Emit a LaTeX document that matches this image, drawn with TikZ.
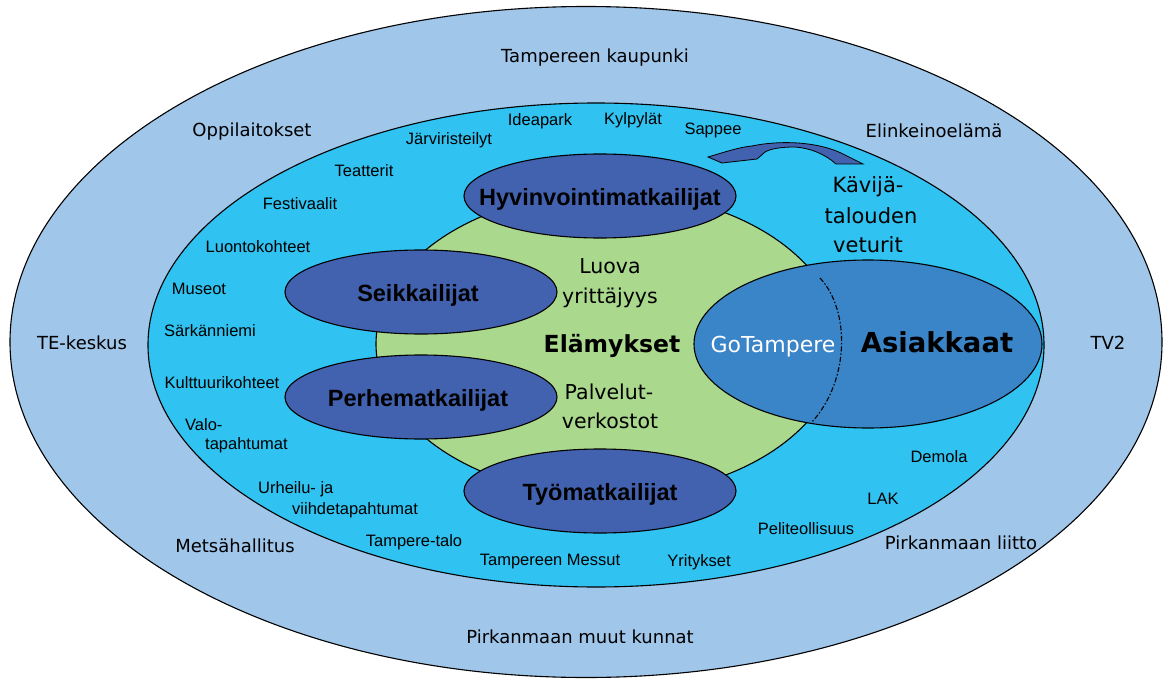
\documentclass[tikz,border=0pt]{standalone}
\usepackage{fontspec}
\setmainfont{DejaVu Sans}
\newfontfamily\arialf{Liberation Sans}
\usetikzlibrary{shapes.geometric}
\definecolor{outerblue}{RGB}{160,198,234}
\definecolor{cyanfill}{RGB}{48,194,240}
\definecolor{greenfill}{RGB}{170,216,140}
\definecolor{darkblue}{RGB}{66,98,176}
\definecolor{custblue}{RGB}{58,132,200}
\begin{document}
\begin{tikzpicture}[x=1pt,y=-1pt,
  ring/.style={ellipse, draw=black, line width=1.1pt, inner sep=0, outer sep=0},
  seg/.style={ellipse, draw=black, line width=1.1pt, fill=darkblue, inner sep=0, outer sep=0, minimum width=272pt, minimum height=84pt},
  outerlab/.style={anchor=base, inner sep=0, font=\fontsize{18}{20}\selectfont},
  smalllab/.style={anchor=base, inner sep=0, font=\arialf\fontsize{16.5}{18}\selectfont},
  midlab/.style={anchor=base, inner sep=0, font=\fontsize{20.5}{22}\selectfont},
  seglab/.style={anchor=base, inner sep=0, font=\arialf\bfseries\fontsize{23.5}{26}\selectfont},
]
\fill[white] (0,0) rectangle (1164,679);
\useasboundingbox (0,0) rectangle (1164,679);

% rings
\node[ring, fill=outerblue, minimum width=1152pt, minimum height=671pt] (outer) at (586,342) {};
\node[ring, fill=cyanfill, minimum width=896pt, minimum height=484pt] (inner) at (596,345) {};
\node[ring, fill=greenfill, minimum width=464pt, minimum height=304pt] (green) at (608,344) {};
\node[ring, fill=custblue, minimum width=348pt, minimum height=168pt] (cust) at (868,344) {};
\coordinate (da) at (820,278);
\coordinate (db) at (812,422);
\draw[line width=1.1pt, dash pattern=on 5pt off 2pt on 1.5pt off 2pt] (da) .. controls (850,310) and (850,380) .. (db);

% segments
\node[seg] (hyv) at (600,196) {};
\node[seg] (seik) at (421,292) {};
\node[seg] (perhe) at (421,397) {};
\node[seg] (tyo) at (600,491) {};

\node[seglab] (thyv) at (600,205) {Hyvinvointimatkailijat};
\node[seglab] (tseik) at (418,301) {Seikkailijat};
\node[seglab] (tperhe) at (418,406) {Perhematkailijat};
\node[seglab] (ttyo) at (600,500) {Työmatkailijat};

% curved arrow
\filldraw[fill=darkblue, draw=black, line width=0.8pt]
  (708,157) .. controls (725,152) and (740,147) .. (752,146)
  .. controls (775,141) and (815,140) .. (843,154) -- (863,164)
  -- (836,164)
  .. controls (825,154) and (810,148) .. (795,147)
  .. controls (780,147) and (770,149) .. (765,152)
  -- (757,159) -- (722,163) -- cycle;

% centre texts
\node[anchor=base, inner sep=0, font=\bfseries\fontsize{23.5}{26}\selectfont] (elam) at (612,352) {Elämykset};
\node[midlab] (luova1) at (610,273) {Luova};
\node[midlab] (luova2) at (610,303) {yrittäjyys};
\node[midlab] (palv1) at (609,399) {Palvelut-};
\node[midlab] (palv2) at (610,428) {verkostot};
\node[midlab, font=\fontsize{21}{23}\selectfont] (kav1) at (868,193) {Kävijä-};
\node[midlab, font=\fontsize{21}{23}\selectfont] (kav2) at (871,223) {talouden};
\node[midlab, font=\fontsize{21}{23}\selectfont] (kav3) at (868,252) {veturit};
\node[anchor=base, inner sep=0, text=white, font=\fontsize{22}{24}\selectfont] (gotam) at (773,352) {GoTampere};
\node[anchor=base, inner sep=0, font=\bfseries\fontsize{27.5}{30}\selectfont] (asiak) at (937,352) {Asiakkaat};

% outer labels
\node[outerlab] (tk) at (595,63) {Tampereen kaupunki};
\node[outerlab] (opp) at (252,137) {Oppilaitokset};
\node[outerlab] (elink) at (934,138) {Elinkeinoelämä};
\node[outerlab] (te) at (82,349) {TE-keskus};
\node[outerlab] (tv2) at (1108,349) {TV2};
\node[outerlab] (mets) at (235,552) {Metsähallitus};
\node[outerlab] (pliitto) at (961,549) {Pirkanmaan liitto};
\node[outerlab] (pmuut) at (580,643) {Pirkanmaan muut kunnat};

% small inner labels
\node[smalllab] (idea) at (540,126) {Ideapark};
\node[smalllab] (kylp) at (633,125) {Kylpylät};
\node[smalllab] (sapp) at (713,135) {Sappee};
\node[smalllab] (jarv) at (449,145) {Järviristeilyt};
\node[smalllab] (teat) at (364,177) {Teatterit};
\node[smalllab] (fest) at (300,209) {Festivaalit};
\node[smalllab] (luon) at (258,252) {Luontokohteet};
\node[smalllab] (muse) at (199,294) {Museot};
\node[smalllab] (sark) at (210,336) {Särkänniemi};
\node[smalllab] (kult) at (222,388) {Kulttuurikohteet};
\node[smalllab, anchor=base west] (valo1) at (185,430) {Valo-};
\node[smalllab, anchor=base west] (valo2) at (205,449) {tapahtumat};
\node[smalllab, anchor=base west] (urh1) at (258,493) {Urheilu- ja};
\node[smalllab, anchor=base west] (urh2) at (292,514) {viihdetapahtumat};
\node[smalllab] (ttalo) at (414,546) {Tampere-talo};
\node[smalllab] (messu) at (550,565) {Tampereen Messut};
\node[smalllab] (yrit) at (699,566) {Yritykset};
\node[smalllab] (demo) at (939,462) {Demola};
\node[smalllab] (lak) at (883,504) {LAK};
\node[smalllab] (peli) at (806,534) {Peliteollisuus};
\end{tikzpicture}
\end{document}
